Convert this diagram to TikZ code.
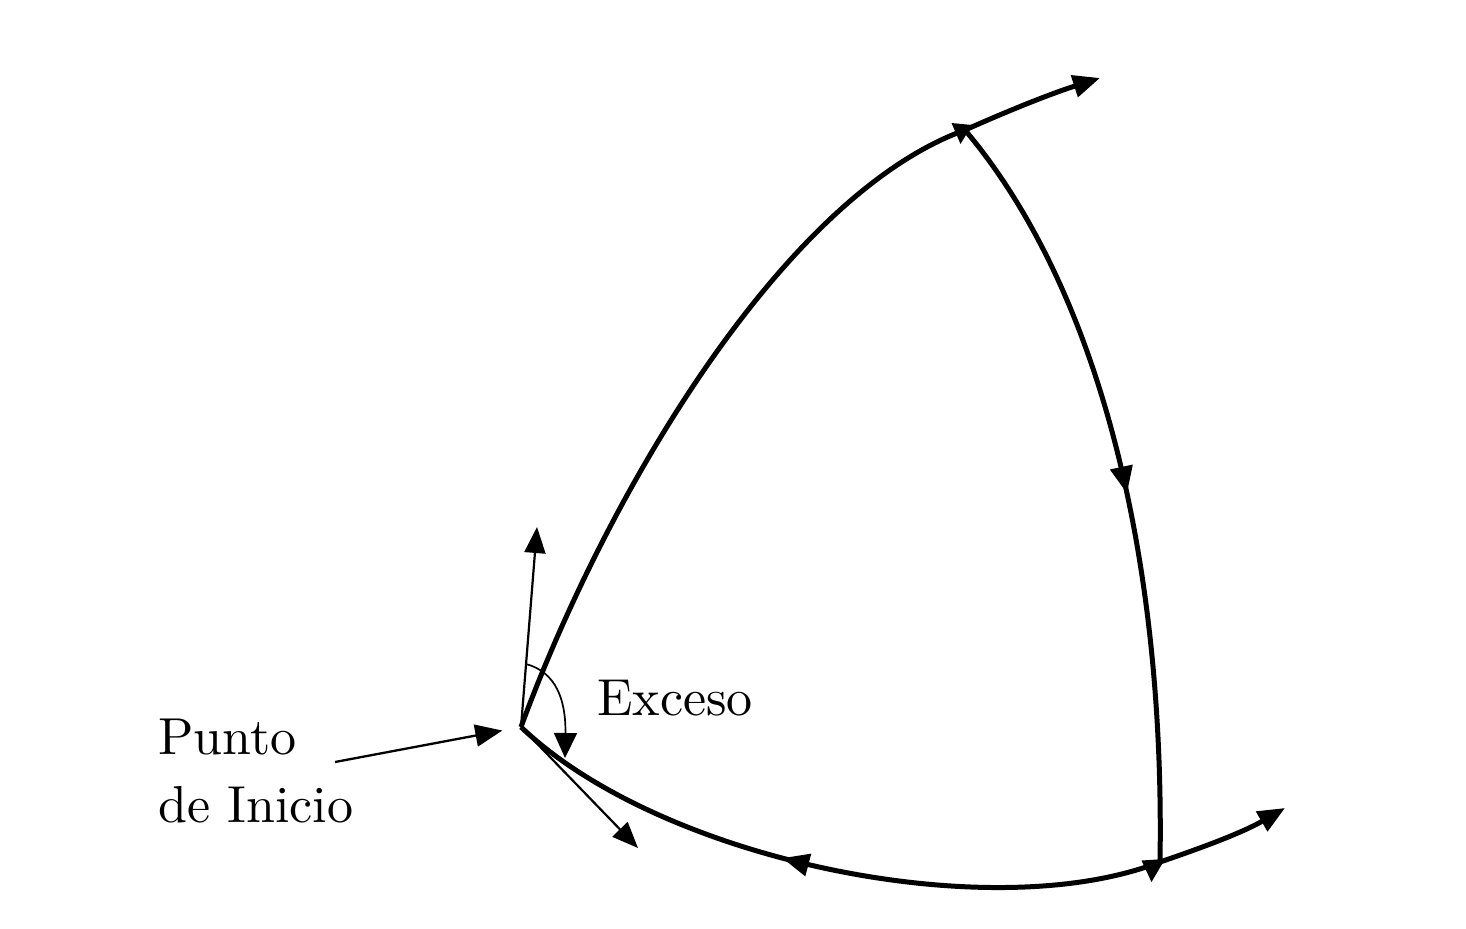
\documentclass[tikz,border=0pt]{standalone}
\usepackage{fontspec}
\setmainfont{lmroman10-regular}[Extension=.otf]
\usetikzlibrary{arrows.meta,decorations.markings}
\begin{document}
\begin{tikzpicture}[x=0.5pt,y=-0.5pt,
  thickline/.style={line width=2.5pt},
  thinline/.style={line width=1.1pt},
  bigtip/.style={-{Triangle[length=13.5pt,width=11pt]}},
  smalltip/.style={-{Triangle[length=13pt,width=10.5pt]}},
  lbl/.style={font=\fontsize{26}{34}\selectfont, inner sep=0pt, anchor=base west},
  midarrow/.style={postaction={decorate},decoration={markings,mark=at position #1 with {\arrow{Triangle[length=13.5pt,width=11pt]}}}}
]
\useasboundingbox (0,0) rectangle (1466,928);
% vertices
\coordinate (S) at (521,727);
\coordinate (T) at (965,130);
\coordinate (B) at (1160,862);
\coordinate (tipT) at (1100,78);
\coordinate (tipB) at (1285,808);
\coordinate (up) at (537,527);
\coordinate (dr) at (638,848);
\coordinate (pstart) at (335,762);
\coordinate (a0) at (526,664);
\coordinate (a1) at (565,758);
% triangle sides
\draw[thickline] (S) .. controls (608,490) and (785,195) .. (T);
\draw[thickline,midarrow=0.52] (T) .. controls (1100,290) and (1165,560) .. (B);
\draw[thickline,midarrow=0.565] (B) .. controls (990,928) and (660,860) .. (S);
% continuations
\draw[thickline,bigtip] (T) .. controls (1010,110) and (1050,94) .. (tipT);
\draw[thickline,bigtip] (B) .. controls (1195,850) and (1240,834) .. (tipB);
% corner heads
\fill (951.5,123) -- (972,125) -- (960.5,144) -- cycle;
\fill (1141.5,860.5) -- (1165,859) -- (1151.5,882) -- cycle;
% tangents at start
\draw[thinline,smalltip] (S) -- (up);
\draw[thinline,smalltip] (S) -- (dr);
% excess angle
\draw[line width=0.85pt,-{Triangle[length=12.5pt,width=11.5pt]}] (a0) .. controls (556,672) and (566,700) .. (a1);
% start label arrow
\draw[line width=1.15pt,bigtip,shorten >=9.5pt] (pstart) -- (S);
% labels
\node[lbl] (punto) at (158,754) {Punto};
\node[lbl] (inicio) at (158,822) {de Inicio};
\node[lbl] (exceso) at (597,715) {Exceso};
\end{tikzpicture}
\end{document}
